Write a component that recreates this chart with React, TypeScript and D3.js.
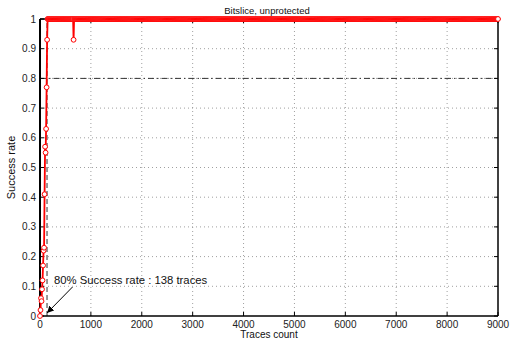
import React from "react";
import * as d3 from "d3";

const TITLE = "Bitslice, unprotected";
const X_LABEL = "Traces count";
const Y_LABEL = "Success rate";
const X_TICKS = [0, 1000, 2000, 3000, 4000, 5000, 6000, 7000, 8000, 9000];
const Y_TICKS = [0, 0.1, 0.2, 0.3, 0.4, 0.5, 0.6, 0.7, 0.8, 0.9, 1];

// Rising part of the success-rate curve (traces, rate)
const RISE_X = [0, 10, 20, 30, 40, 50, 60, 70, 80, 90, 100, 110, 120, 130, 140, 150];
const RISE_Y = [0, 0.02, 0.06, 0.05, 0.09, 0.12, 0.17, 0.22, 0.23, 0.41, 0.57, 0.55, 0.63, 0.77, 0.93, 1];
// Plateau: rate stays at 1 from here to the end, sampled every STEP traces, except listed dips
const PLATEAU_START = 160;
const PLATEAU_END = 9000;
const STEP = 10;
const DIP_X = [660];
const DIP_Y = [0.93];

const THRESHOLD = 0.8;
const THRESHOLD_TRACES = 138;
const ANNOTATION = "80% Success rate : 138 traces";

export default function App() {
  const W = 511, H = 340;
  const m = { left: 40, right: 13, top: 19, bottom: 24 };
  const x = d3.scaleLinear().domain([0, 9000]).range([m.left, W - m.right]);
  const y = d3.scaleLinear().domain([0, 1]).range([H - m.bottom, m.top]);

  const data: [number, number][] = RISE_X.map((v, i) => [v, RISE_Y[i]]);
  for (const t of d3.range(PLATEAU_START, PLATEAU_END + 1, STEP)) {
    const di = DIP_X.indexOf(t);
    data.push([t, di >= 0 ? DIP_Y[di] : 1]);
  }
  const line = d3.line<[number, number]>().x((d) => x(d[0])).y((d) => y(d[1]));

  const x0 = x(0), x1 = x(9000), y0 = y(0), y1 = y(1);
  const font = "Liberation Sans, Arial, Helvetica, sans-serif";

  return (
    <svg width={W} height={H} style={{ position: "absolute", left: 0, top: 0 }} fontFamily={font}>
      <rect x={0} y={0} width={W} height={H} fill="white" />
      {/* grid */}
      {X_TICKS.slice(1, -1).map((t) => (
        <line key={"gx" + t} x1={x(t)} x2={x(t)} y1={y0} y2={y1} stroke="#888" strokeWidth={0.8} strokeDasharray="1,3" />
      ))}
      {Y_TICKS.slice(1, -1).map((t) => (
        <line key={"gy" + t} x1={x0} x2={x1} y1={y(t)} y2={y(t)} stroke="#888" strokeWidth={0.8} strokeDasharray="1,3" />
      ))}
      {/* threshold line */}
      <line x1={x0} x2={x1} y1={y(THRESHOLD)} y2={y(THRESHOLD)} stroke="#333" strokeWidth={1} strokeDasharray="6,3,1.5,3" />
      <line x1={x(THRESHOLD_TRACES)} x2={x(THRESHOLD_TRACES)} y1={y0} y2={y1} stroke="#333" strokeWidth={1} strokeDasharray="5,3" />
      {/* axes box */}
      <line x1={x0} x2={x1} y1={y0} y2={y0} stroke="black" strokeWidth={1.5} />
      <line x1={x0} x2={x1} y1={y1} y2={y1} stroke="black" strokeWidth={1.5} />
      <line x1={x0} x2={x0} y1={y0} y2={y1} stroke="black" strokeWidth={2} />
      <line x1={x1} x2={x1} y1={y0} y2={y1} stroke="black" strokeWidth={1.5} />
      {/* ticks */}
      {X_TICKS.map((t) => (
        <g key={"tx" + t}>
          <line x1={x(t)} x2={x(t)} y1={y0} y2={y0 - 4} stroke="black" />
          <line x1={x(t)} x2={x(t)} y1={y1} y2={y1 + 4} stroke="black" />
          <text x={x(t)} y={y0 + 12} fontSize={10} textAnchor="middle" fill="#222">{t}</text>
        </g>
      ))}
      {Y_TICKS.map((t) => (
        <g key={"ty" + t}>
          <line x1={x0} x2={x0 + 4} y1={y(t)} y2={y(t)} stroke="black" />
          <line x1={x1} x2={x1 - 4} y1={y(t)} y2={y(t)} stroke="black" />
          <text x={x0 - 4} y={y(t) + 3.5} fontSize={10} textAnchor="end" fill="#222">{String(t)}</text>
        </g>
      ))}
      {/* data */}
      <path d={line(data) || ""} fill="none" stroke="#ff0000" strokeWidth={1.8} />
      {data.map((d, i) => (
        <circle key={i} cx={x(d[0])} cy={y(d[1])} r={2.4} fill="white" stroke="#ff0000" strokeWidth={1} />
      ))}
      {/* annotation */}
      <defs>
        <marker id="arr" viewBox="0 0 10 10" refX="10" refY="5" markerWidth="7" markerHeight="7" orient="auto">
          <path d="M0,0 L10,5 L0,10 z" fill="black" />
        </marker>
      </defs>
      <line x1={72.5} y1={287} x2={x(THRESHOLD_TRACES)} y2={y0 - 3} stroke="black" strokeWidth={1} markerEnd="url(#arr)" />
      <text x={54} y={284} fontSize={11.3} fill="#111">{ANNOTATION}</text>
      {/* labels */}
      <text x={(x0 + x1) / 2 - 2} y={14} fontSize={9.5} textAnchor="middle" fill="#111">{TITLE}</text>
      <text x={(x0 + x1) / 2} y={338} fontSize={10} textAnchor="middle" fill="#111">{X_LABEL}</text>
      <text transform={`translate(15,${(y0 + y1) / 2}) rotate(-90)`} fontSize={11} textAnchor="middle" fill="#111">{Y_LABEL}</text>
    </svg>
  );
}
